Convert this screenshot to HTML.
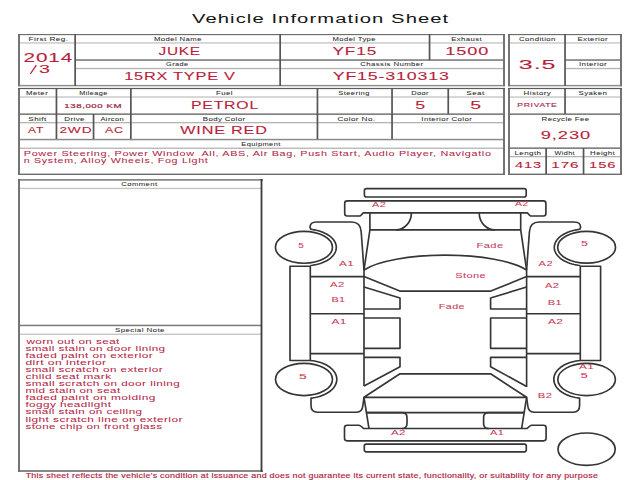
<!DOCTYPE html><html><head><meta charset="utf-8"><style>html,body{margin:0;padding:0;background:#fff;width:640px;height:480px;overflow:hidden}svg{display:block}text{font-family:"Liberation Sans",sans-serif}</style></head><body>
<svg width="640" height="480" viewBox="0 0 640 480">
<rect width="640" height="480" fill="#fff"/>
<rect x="20.00" y="42.30" width="483.00" height="1.30" fill="#c2c2c2"/>
<rect x="510.00" y="42.30" width="110.00" height="1.30" fill="#c2c2c2"/>
<rect x="20.00" y="96.40" width="483.00" height="1.30" fill="#c2c2c2"/>
<rect x="510.00" y="96.40" width="110.00" height="1.30" fill="#c2c2c2"/>
<rect x="20.00" y="187.80" width="241.00" height="1.30" fill="#c2c2c2"/>
<rect x="20.00" y="333.60" width="241.00" height="1.30" fill="#c2c2c2"/>
<rect x="76.00" y="67.90" width="427.00" height="1.30" fill="#b4b4b4"/>
<rect x="566.00" y="67.90" width="54.00" height="1.30" fill="#b4b4b4"/>
<rect x="20.00" y="122.00" width="483.00" height="1.30" fill="#b4b4b4"/>
<rect x="20.00" y="147.60" width="483.00" height="1.30" fill="#b4b4b4"/>
<rect x="510.00" y="156.00" width="110.00" height="1.30" fill="#b4b4b4"/>
<rect x="18.00" y="84.90" width="487.00" height="1.40" fill="#8a8a8a"/>
<rect x="508.00" y="84.90" width="114.00" height="1.40" fill="#8a8a8a"/>
<rect x="18.00" y="138.80" width="487.00" height="1.50" fill="#8a8a8a"/>
<rect x="20.00" y="324.70" width="241.00" height="1.50" fill="#7a7a7a"/>
<rect x="18.00" y="34.00" width="2.00" height="52.30" fill="#747474"/>
<rect x="503.00" y="34.00" width="2.00" height="52.30" fill="#747474"/>
<rect x="508.00" y="34.00" width="2.00" height="52.30" fill="#747474"/>
<rect x="620.00" y="34.00" width="2.00" height="52.30" fill="#747474"/>
<rect x="18.00" y="88.00" width="2.00" height="87.00" fill="#747474"/>
<rect x="503.00" y="88.00" width="2.00" height="87.00" fill="#747474"/>
<rect x="508.00" y="88.00" width="2.00" height="87.00" fill="#747474"/>
<rect x="620.00" y="88.00" width="2.00" height="87.00" fill="#747474"/>
<rect x="18.00" y="179.00" width="2.00" height="292.80" fill="#747474"/>
<rect x="75.00" y="59.30" width="430.00" height="1.50" fill="#737373"/>
<rect x="565.00" y="59.30" width="57.00" height="1.50" fill="#737373"/>
<rect x="18.00" y="113.40" width="487.00" height="1.50" fill="#737373"/>
<rect x="508.00" y="113.40" width="114.00" height="1.50" fill="#737373"/>
<rect x="508.00" y="147.40" width="114.00" height="1.50" fill="#737373"/>
<rect x="18.00" y="34.00" width="487.00" height="1.15" fill="#6c6c6c"/>
<rect x="508.00" y="34.00" width="114.00" height="1.15" fill="#6c6c6c"/>
<rect x="18.00" y="173.60" width="487.00" height="1.40" fill="#6c6c6c"/>
<rect x="508.00" y="173.60" width="114.00" height="1.40" fill="#6c6c6c"/>
<rect x="18.00" y="179.20" width="245.00" height="1.40" fill="#6c6c6c"/>
<rect x="18.00" y="470.20" width="245.00" height="1.60" fill="#6c6c6c"/>
<rect x="18.00" y="87.90" width="487.00" height="1.20" fill="#5c5c5c"/>
<rect x="508.00" y="87.90" width="114.00" height="1.20" fill="#5c5c5c"/>
<rect x="74.30" y="34.00" width="1.70" height="52.00" fill="#555555"/>
<rect x="279.30" y="34.00" width="1.70" height="52.00" fill="#555555"/>
<rect x="428.70" y="34.00" width="1.70" height="26.00" fill="#555555"/>
<rect x="564.20" y="34.00" width="1.70" height="52.00" fill="#555555"/>
<rect x="55.60" y="88.00" width="1.70" height="51.00" fill="#555555"/>
<rect x="130.00" y="88.00" width="1.70" height="51.00" fill="#555555"/>
<rect x="316.60" y="88.00" width="1.70" height="51.00" fill="#555555"/>
<rect x="391.20" y="88.00" width="1.70" height="51.00" fill="#555555"/>
<rect x="447.40" y="88.00" width="1.70" height="26.00" fill="#555555"/>
<rect x="92.70" y="114.00" width="1.70" height="25.00" fill="#555555"/>
<rect x="564.20" y="88.00" width="1.70" height="26.00" fill="#555555"/>
<rect x="545.30" y="148.00" width="1.70" height="26.00" fill="#555555"/>
<rect x="582.70" y="148.00" width="1.70" height="26.00" fill="#555555"/>
<rect x="260.60" y="179.00" width="1.80" height="292.80" fill="#3a3a3a"/>
<g fill="none" stroke="#353535" stroke-width="1.65" stroke-linejoin="round"><path d="M 366.4,188.6 H 524.2 Q 526.2,188.6 526.2,190.6 V 195 Q 526.2,197 524.2,197 H 366.4 Q 364.4,197 364.4,195 V 190.6 Q 364.4,188.6 366.4,188.6 Z"/><path d="M 347.4,200.9 H 543.5 Q 545.9,200.9 545.9,203.4 V 213.6 Q 545.9,216 543.5,216 H 531.2 Q 530,216 527.5,212.9 H 363.1 Q 360.6,216 359.4,216 H 347.1 Q 344.7,216 344.7,213.6 V 203.4 Q 344.7,200.9 347.1,200.9 Z"/><path d="M 369.9,212.9 V 229.8 L 364,270"/><path d="M 520.7,212.9 V 229.8 L 526.6,270"/><path d="M 369.9,229.8 H 520.7"/><path d="M 411.4,212.9 A 15.5,17 0 0 1 395.9,229.8"/><path d="M 479.2,212.9 A 15.5,17 0 0 0 494.7,229.8"/><path d="M 361.2,232 C 360.8,225 358,222 351.5,222 H 316.5 Q 310,222 310,227.3 Q 310.2,229.3 312.20,229.53 L 312.20,229.53 L 314.26,229.84 L 316.28,230.24 L 318.24,230.72 L 320.15,231.29 L 321.99,231.93 L 323.75,232.64 L 325.42,233.42 L 326.99,234.27 L 328.46,235.19 L 329.83,236.16 L 331.08,237.19 L 332.20,238.26 L 333.20,239.38 L 334.06,240.54 L 334.79,241.73 L 335.38,242.95 L 335.82,244.19 L 336.12,245.44 L 336.28,246.71 L 336.28,247.98 L 336.14,249.24 L 335.86,250.50 L 335.42,251.74 L 334.85,252.96 L 334.13,254.15 L 333.28,255.31 L 332.30,256.44 L 331.18,257.52 L 329.95,258.55 L 328.59,259.53 L 327.13,260.45 L 325.56,261.30 L 323.90,262.09 L 322.15,262.81 L 320.32,263.46 L 318.42,264.03 L 316.46,264.52 L 314.45,264.92 L 312.39,265.25 L 310.30,265.48"/><path d="M 529.4,232 C 529.8,225 532.6,222 539.1,222 H 574.1 Q 580.6,222 580.6,227.3 Q 580.4,229.3 578.40,229.53 L 576.34,229.84 L 574.32,230.24 L 572.36,230.72 L 570.45,231.29 L 568.61,231.93 L 566.85,232.64 L 565.18,233.42 L 563.61,234.27 L 562.14,235.19 L 560.77,236.16 L 559.52,237.19 L 558.40,238.26 L 557.40,239.38 L 556.54,240.54 L 555.81,241.73 L 555.22,242.95 L 554.78,244.19 L 554.48,245.44 L 554.32,246.71 L 554.32,247.98 L 554.46,249.24 L 554.74,250.50 L 555.18,251.74 L 555.75,252.96 L 556.47,254.15 L 557.32,255.31 L 558.30,256.44 L 559.42,257.52 L 560.65,258.55 L 562.01,259.53 L 563.47,260.45 L 565.04,261.30 L 566.70,262.09 L 568.45,262.81 L 570.28,263.46 L 572.18,264.03 L 574.14,264.52 L 576.15,264.92 L 578.21,265.25 L 580.30,265.48"/><path d="M 361.2,232 L 364,270"/><path d="M 529.4,232 L 526.6,270"/><path d="M 290,266.2 H 310.3 V 360.5 H 290 Z"/><path d="M 600.6,266.2 H 580.3 V 360.5 H 600.6 Z"/><path d="M 364,270 V 386"/><path d="M 526.6,270 V 387"/><path d="M 310.3,276.6 H 364"/><path d="M 526.6,276.6 H 580.3"/><path d="M 310.3,313.7 H 364"/><path d="M 526.6,313.7 H 580.3"/><path d="M 310.3,353.6 H 364"/><path d="M 526.6,353.6 H 580.3"/><path d="M 364,270 A 88,24 0 0 1 526.6,270"/><path d="M 364,276.6 L 399.8,291.1 H 490.8 L 526.6,276.6"/><path d="M 364,287 L 400,298 V 309 H 364"/><path d="M 526.6,287 L 490.6,298 V 309 H 526.6"/><path d="M 364,318 H 400 V 348.3 H 364"/><path d="M 526.6,318 H 490.6 V 348.3 H 526.6"/><path d="M 364,357.3 H 400 V 366.7 L 364,386"/><path d="M 526.6,357.3 H 490.6 V 366.7 L 526.6,386.5"/><path d="M 364,397.3 L 400,373.8 H 490.6 L 526.6,397.3 Z"/><path d="M 364,397.3 L 369,428.6"/><path d="M 526.6,397.3 L 521.6,428.6"/><path d="M 310.30,360.47 L 312.45,360.70 L 314.56,361.02 L 316.64,361.44 L 318.66,361.95 L 320.62,362.54 L 322.50,363.22 L 324.30,363.98 L 326.01,364.82 L 327.62,365.73 L 329.12,366.71 L 330.51,367.76 L 331.77,368.86 L 332.90,370.02 L 333.90,371.22 L 334.75,372.47 L 335.46,373.75 L 336.03,375.06 L 336.44,376.38 L 336.70,377.73 L 336.80,379.08 L 336.75,380.43 L 336.54,381.78 L 336.18,383.12 L 335.66,384.43 L 335.00,385.72 L 334.19,386.98 L 333.24,388.19 L 332.15,389.37 L 330.93,390.49 L 329.59,391.55 L 328.12,392.56 L 326.55,393.49 L 324.87,394.35 L 323.10,395.14 L 321.24,395.85 L 319.30,396.47 L 317.30,397.01 L 315.24,397.45 L 313.14,397.81 L 311.00,398.06 L 311,405.5 Q 311,412.2 317.5,412.2 H 356.5 Q 362.3,412.2 362.8,406 L 364,397.3"/><path d="M 580.30,360.47 L 578.15,360.70 L 576.04,361.02 L 573.96,361.44 L 571.94,361.95 L 569.98,362.54 L 568.10,363.22 L 566.30,363.98 L 564.59,364.82 L 562.98,365.73 L 561.48,366.71 L 560.09,367.76 L 558.83,368.86 L 557.70,370.02 L 556.70,371.22 L 555.85,372.47 L 555.14,373.75 L 554.57,375.06 L 554.16,376.38 L 553.90,377.73 L 553.80,379.08 L 553.85,380.43 L 554.06,381.78 L 554.42,383.12 L 554.94,384.43 L 555.60,385.72 L 556.41,386.98 L 557.36,388.19 L 558.45,389.37 L 559.67,390.49 L 561.01,391.55 L 562.48,392.56 L 564.05,393.49 L 565.73,394.35 L 567.50,395.14 L 569.36,395.85 L 571.30,396.47 L 573.30,397.01 L 575.36,397.45 L 577.46,397.81 L 579.60,398.06 L 579.6,405.5 Q 579.6,412.2 573.1,412.2 H 534.1 Q 528.3,412.2 527.8,406 L 526.6,397.3"/><path d="M 367,412.6 H 523.6"/><path d="M 366,412.6 H 402 Q 407,412.6 407,417.6 V 423.6 Q 407,428.6 402,428.6"/><path d="M 524.6,412.6 H 488.6 Q 483.6,412.6 483.6,417.6 V 423.6 Q 483.6,428.6 488.6,428.6"/><path d="M 347,425.2 H 358.8 Q 360.5,425.2 363.5,428.5 H 527.1 Q 530.1,425.2 531.8,425.2 H 543.6 Q 546.1,425.2 546.1,427.7 V 438.3 Q 546.1,440.8 543.6,440.8 H 347 Q 344.5,440.8 344.5,438.3 V 427.7 Q 344.5,425.2 347,425.2 Z"/><path d="M 366.3,444.1 H 524.3 Q 526.3,444.1 526.3,446.1 V 449.8 Q 526.3,451.8 524.3,451.8 H 366.3 Q 364.3,451.8 364.3,449.8 V 446.1 Q 364.3,444.1 366.3,444.1 Z"/><ellipse cx="303.95" cy="247.3" rx="28.5" ry="15.9"/><ellipse cx="586.6" cy="247.2" rx="28.9" ry="15.9"/><ellipse cx="304" cy="379.45" rx="28.5" ry="16.1"/><ellipse cx="586.6" cy="379.5" rx="28.8" ry="16.1"/><ellipse cx="586.6" cy="449.2" rx="28.6" ry="16.2"/></g>
<path d="M 30.3,74 L 36.3,65.2" stroke="#b81e3c" stroke-width="1.25" fill="none"/>
<text x="192.00" y="22.80" font-size="13.23" fill="#151515" stroke="#151515" stroke-width="0.02" letter-spacing="0.70" textLength="257.30" lengthAdjust="spacingAndGlyphs">Vehicle Information Sheet</text>
<text x="28.60" y="40.80" font-size="5.52" fill="#2a2a2a" stroke="#2a2a2a" stroke-width="0.05" letter-spacing="0.30" textLength="39.80" lengthAdjust="spacingAndGlyphs">First Reg.</text>
<text x="153.90" y="40.90" font-size="5.67" fill="#2a2a2a" stroke="#2a2a2a" stroke-width="0.05" letter-spacing="0.30" textLength="48.00" lengthAdjust="spacingAndGlyphs">Model Name</text>
<text x="332.60" y="40.90" font-size="5.67" fill="#2a2a2a" stroke="#2a2a2a" stroke-width="0.05" letter-spacing="0.30" textLength="43.30" lengthAdjust="spacingAndGlyphs">Model Type</text>
<text x="451.20" y="40.90" font-size="5.67" fill="#2a2a2a" stroke="#2a2a2a" stroke-width="0.05" letter-spacing="0.30" textLength="31.00" lengthAdjust="spacingAndGlyphs">Exhaust</text>
<text x="519.00" y="40.90" font-size="5.67" fill="#2a2a2a" stroke="#2a2a2a" stroke-width="0.05" letter-spacing="0.30" textLength="36.90" lengthAdjust="spacingAndGlyphs">Condition</text>
<text x="577.40" y="40.90" font-size="5.67" fill="#2a2a2a" stroke="#2a2a2a" stroke-width="0.05" letter-spacing="0.30" textLength="30.70" lengthAdjust="spacingAndGlyphs">Exterior</text>
<text x="166.00" y="66.30" font-size="5.52" fill="#2a2a2a" stroke="#2a2a2a" stroke-width="0.05" letter-spacing="0.30" textLength="22.50" lengthAdjust="spacingAndGlyphs">Grade</text>
<text x="360.30" y="66.30" font-size="5.52" fill="#2a2a2a" stroke="#2a2a2a" stroke-width="0.05" letter-spacing="0.30" textLength="63.30" lengthAdjust="spacingAndGlyphs">Chassis Number</text>
<text x="578.90" y="66.30" font-size="5.52" fill="#2a2a2a" stroke="#2a2a2a" stroke-width="0.05" letter-spacing="0.30" textLength="28.20" lengthAdjust="spacingAndGlyphs">Interior</text>
<text x="26.00" y="95.00" font-size="5.38" fill="#2a2a2a" stroke="#2a2a2a" stroke-width="0.05" letter-spacing="0.30" textLength="22.20" lengthAdjust="spacingAndGlyphs">Meter</text>
<text x="79.30" y="95.00" font-size="5.38" fill="#2a2a2a" stroke="#2a2a2a" stroke-width="0.05" letter-spacing="0.30" textLength="28.40" lengthAdjust="spacingAndGlyphs">Mileage</text>
<text x="216.00" y="95.00" font-size="5.38" fill="#2a2a2a" stroke="#2a2a2a" stroke-width="0.05" letter-spacing="0.30" textLength="17.00" lengthAdjust="spacingAndGlyphs">Fuel</text>
<text x="338.25" y="95.00" font-size="5.38" fill="#2a2a2a" stroke="#2a2a2a" stroke-width="0.05" letter-spacing="0.30" textLength="31.55" lengthAdjust="spacingAndGlyphs">Steering</text>
<text x="411.20" y="95.00" font-size="5.38" fill="#2a2a2a" stroke="#2a2a2a" stroke-width="0.05" letter-spacing="0.30" textLength="17.80" lengthAdjust="spacingAndGlyphs">Door</text>
<text x="466.30" y="95.00" font-size="5.38" fill="#2a2a2a" stroke="#2a2a2a" stroke-width="0.05" letter-spacing="0.30" textLength="18.50" lengthAdjust="spacingAndGlyphs">Seat</text>
<text x="523.60" y="95.20" font-size="5.67" fill="#2a2a2a" stroke="#2a2a2a" stroke-width="0.05" letter-spacing="0.30" textLength="27.60" lengthAdjust="spacingAndGlyphs">History</text>
<text x="578.60" y="95.20" font-size="5.67" fill="#2a2a2a" stroke="#2a2a2a" stroke-width="0.05" letter-spacing="0.30" textLength="28.60" lengthAdjust="spacingAndGlyphs">Syaken</text>
<text x="28.30" y="120.70" font-size="5.96" fill="#2a2a2a" stroke="#2a2a2a" stroke-width="0.05" letter-spacing="0.30" textLength="18.40" lengthAdjust="spacingAndGlyphs">Shift</text>
<text x="64.30" y="120.70" font-size="5.96" fill="#2a2a2a" stroke="#2a2a2a" stroke-width="0.05" letter-spacing="0.30" textLength="20.70" lengthAdjust="spacingAndGlyphs">Drive</text>
<text x="100.40" y="120.70" font-size="5.96" fill="#2a2a2a" stroke="#2a2a2a" stroke-width="0.05" letter-spacing="0.30" textLength="23.80" lengthAdjust="spacingAndGlyphs">Aircon</text>
<text x="202.75" y="120.70" font-size="5.96" fill="#2a2a2a" stroke="#2a2a2a" stroke-width="0.05" letter-spacing="0.30" textLength="42.75" lengthAdjust="spacingAndGlyphs">Body Color</text>
<text x="337.50" y="120.70" font-size="5.96" fill="#2a2a2a" stroke="#2a2a2a" stroke-width="0.05" letter-spacing="0.30" textLength="38.00" lengthAdjust="spacingAndGlyphs">Color No.</text>
<text x="421.30" y="120.70" font-size="5.96" fill="#2a2a2a" stroke="#2a2a2a" stroke-width="0.05" letter-spacing="0.30" textLength="51.00" lengthAdjust="spacingAndGlyphs">Interior Color</text>
<text x="541.60" y="120.90" font-size="6.25" fill="#2a2a2a" stroke="#2a2a2a" stroke-width="0.05" letter-spacing="0.30" textLength="48.00" lengthAdjust="spacingAndGlyphs">Recycle Fee</text>
<text x="241.30" y="146.10" font-size="5.38" fill="#2a2a2a" stroke="#2a2a2a" stroke-width="0.05" letter-spacing="0.30" textLength="39.45" lengthAdjust="spacingAndGlyphs">Equipment</text>
<text x="514.50" y="155.40" font-size="6.10" fill="#2a2a2a" stroke="#2a2a2a" stroke-width="0.05" letter-spacing="0.30" textLength="27.00" lengthAdjust="spacingAndGlyphs">Length</text>
<text x="554.60" y="155.40" font-size="6.10" fill="#2a2a2a" stroke="#2a2a2a" stroke-width="0.05" letter-spacing="0.30" textLength="20.40" lengthAdjust="spacingAndGlyphs">Widht</text>
<text x="590.10" y="155.40" font-size="6.10" fill="#2a2a2a" stroke="#2a2a2a" stroke-width="0.05" letter-spacing="0.30" textLength="25.00" lengthAdjust="spacingAndGlyphs">Height</text>
<text x="121.30" y="186.00" font-size="5.45" fill="#2a2a2a" stroke="#2a2a2a" stroke-width="0.05" letter-spacing="0.30" textLength="36.20" lengthAdjust="spacingAndGlyphs">Comment</text>
<text x="115.00" y="331.60" font-size="5.81" fill="#2a2a2a" stroke="#2a2a2a" stroke-width="0.05" letter-spacing="0.30" textLength="49.80" lengthAdjust="spacingAndGlyphs">Special Note</text>
<text x="23.50" y="61.60" font-size="12.06" fill="#b81e3c" stroke="#b81e3c" stroke-width="0.10" letter-spacing="0.55" textLength="49.70" lengthAdjust="spacingAndGlyphs">2014</text>
<text x="38.90" y="72.80" font-size="11.48" fill="#b81e3c" stroke="#b81e3c" stroke-width="0.10" letter-spacing="0.55" textLength="11.90" lengthAdjust="spacingAndGlyphs">3</text>
<text x="158.50" y="55.00" font-size="10.90" fill="#b81e3c" stroke="#b81e3c" stroke-width="0.10" letter-spacing="0.55" textLength="42.40" lengthAdjust="spacingAndGlyphs">JUKE</text>
<text x="124.20" y="80.30" font-size="11.34" fill="#b81e3c" stroke="#b81e3c" stroke-width="0.10" letter-spacing="0.55" textLength="111.60" lengthAdjust="spacingAndGlyphs">15RX TYPE V</text>
<text x="332.50" y="54.80" font-size="10.61" fill="#b81e3c" stroke="#b81e3c" stroke-width="0.10" letter-spacing="0.55" textLength="44.60" lengthAdjust="spacingAndGlyphs">YF15</text>
<text x="445.30" y="54.80" font-size="10.61" fill="#b81e3c" stroke="#b81e3c" stroke-width="0.10" letter-spacing="0.55" textLength="44.10" lengthAdjust="spacingAndGlyphs">1500</text>
<text x="332.70" y="80.30" font-size="11.34" fill="#b81e3c" stroke="#b81e3c" stroke-width="0.10" letter-spacing="0.55" textLength="117.10" lengthAdjust="spacingAndGlyphs">YF15-310313</text>
<text x="518.80" y="68.70" font-size="13.66" fill="#b81e3c" stroke="#b81e3c" stroke-width="0.10" letter-spacing="0.55" textLength="37.60" lengthAdjust="spacingAndGlyphs">3.5</text>
<text x="64.30" y="107.80" font-size="6.25" fill="#9a2040" stroke="#9a2040" stroke-width="0.20" letter-spacing="0.40" textLength="57.90" lengthAdjust="spacingAndGlyphs">138,000 KM</text>
<text x="191.00" y="108.50" font-size="10.90" fill="#b81e3c" stroke="#b81e3c" stroke-width="0.10" letter-spacing="0.55" textLength="68.00" lengthAdjust="spacingAndGlyphs">PETROL</text>
<text x="415.20" y="108.50" font-size="10.90" fill="#b81e3c" stroke="#b81e3c" stroke-width="0.10" letter-spacing="0.55" textLength="10.80" lengthAdjust="spacingAndGlyphs">5</text>
<text x="470.30" y="108.50" font-size="10.90" fill="#b81e3c" stroke="#b81e3c" stroke-width="0.10" letter-spacing="0.55" textLength="11.80" lengthAdjust="spacingAndGlyphs">5</text>
<text x="517.30" y="106.60" font-size="6.10" fill="#a83050" stroke="#a83050" stroke-width="0.15" letter-spacing="0.50" textLength="40.20" lengthAdjust="spacingAndGlyphs">PRIVATE</text>
<text x="28.10" y="133.30" font-size="8.72" fill="#b81e3c" stroke="#b81e3c" stroke-width="0.10" letter-spacing="0.55" textLength="16.00" lengthAdjust="spacingAndGlyphs">AT</text>
<text x="59.40" y="133.30" font-size="8.72" fill="#b81e3c" stroke="#b81e3c" stroke-width="0.10" letter-spacing="0.55" textLength="33.00" lengthAdjust="spacingAndGlyphs">2WD</text>
<text x="104.90" y="133.30" font-size="8.72" fill="#b81e3c" stroke="#b81e3c" stroke-width="0.10" letter-spacing="0.55" textLength="18.80" lengthAdjust="spacingAndGlyphs">AC</text>
<text x="180.25" y="134.00" font-size="10.90" fill="#b81e3c" stroke="#b81e3c" stroke-width="0.10" letter-spacing="0.55" textLength="87.50" lengthAdjust="spacingAndGlyphs">WINE RED</text>
<text x="540.80" y="138.50" font-size="10.90" fill="#b81e3c" stroke="#b81e3c" stroke-width="0.10" letter-spacing="0.55" textLength="50.30" lengthAdjust="spacingAndGlyphs">9,230</text>
<text x="515.00" y="167.50" font-size="9.01" fill="#b81e3c" stroke="#b81e3c" stroke-width="0.10" letter-spacing="0.55" textLength="27.00" lengthAdjust="spacingAndGlyphs">413</text>
<text x="551.30" y="167.50" font-size="9.01" fill="#b81e3c" stroke="#b81e3c" stroke-width="0.10" letter-spacing="0.55" textLength="28.20" lengthAdjust="spacingAndGlyphs">176</text>
<text x="589.10" y="167.50" font-size="9.01" fill="#b81e3c" stroke="#b81e3c" stroke-width="0.10" letter-spacing="0.55" textLength="27.30" lengthAdjust="spacingAndGlyphs">156</text>
<text style="white-space:pre" x="23.75" y="156.00" font-size="7.99" fill="#b0284a" stroke="#b0284a" stroke-width="0.05" letter-spacing="0.50" textLength="467.85" lengthAdjust="spacingAndGlyphs">Power Steering, Power Window  All, ABS, Air Bag, Push Start, Audio Player, Navigatio</text>
<text x="23.75" y="162.80" font-size="7.56" fill="#b0284a" stroke="#b0284a" stroke-width="0.05" letter-spacing="0.50" textLength="184.75" lengthAdjust="spacingAndGlyphs">n System, Alloy Wheels, Fog Light</text>
<text x="26.40" y="343.75" font-size="7.92" fill="#b42646" stroke="#b42646" stroke-width="0.04" letter-spacing="0.30" textLength="93.40" lengthAdjust="spacingAndGlyphs">worn out on seat</text>
<text x="25.40" y="350.82" font-size="7.92" fill="#b42646" stroke="#b42646" stroke-width="0.04" letter-spacing="0.30" textLength="140.20" lengthAdjust="spacingAndGlyphs">small stain on door lining</text>
<text x="25.40" y="357.89" font-size="7.92" fill="#b42646" stroke="#b42646" stroke-width="0.04" letter-spacing="0.30" textLength="127.80" lengthAdjust="spacingAndGlyphs">faded paint on exterior</text>
<text x="25.40" y="364.96" font-size="7.92" fill="#b42646" stroke="#b42646" stroke-width="0.04" letter-spacing="0.30" textLength="81.20" lengthAdjust="spacingAndGlyphs">dirt on interior</text>
<text x="25.40" y="372.03" font-size="7.92" fill="#b42646" stroke="#b42646" stroke-width="0.04" letter-spacing="0.30" textLength="137.60" lengthAdjust="spacingAndGlyphs">small scratch on exterior</text>
<text x="25.40" y="379.10" font-size="7.92" fill="#b42646" stroke="#b42646" stroke-width="0.04" letter-spacing="0.30" textLength="86.10" lengthAdjust="spacingAndGlyphs">child seat mark</text>
<text x="25.40" y="386.17" font-size="7.92" fill="#b42646" stroke="#b42646" stroke-width="0.04" letter-spacing="0.30" textLength="154.90" lengthAdjust="spacingAndGlyphs">small scratch on door lining</text>
<text x="25.40" y="393.24" font-size="7.92" fill="#b42646" stroke="#b42646" stroke-width="0.04" letter-spacing="0.30" textLength="95.20" lengthAdjust="spacingAndGlyphs">mid stain on seat</text>
<text x="25.40" y="400.31" font-size="7.92" fill="#b42646" stroke="#b42646" stroke-width="0.04" letter-spacing="0.30" textLength="130.40" lengthAdjust="spacingAndGlyphs">faded paint on molding</text>
<text x="25.40" y="407.38" font-size="7.92" fill="#b42646" stroke="#b42646" stroke-width="0.04" letter-spacing="0.30" textLength="86.10" lengthAdjust="spacingAndGlyphs">foggy headlight</text>
<text x="25.40" y="414.45" font-size="7.92" fill="#b42646" stroke="#b42646" stroke-width="0.04" letter-spacing="0.30" textLength="117.10" lengthAdjust="spacingAndGlyphs">small stain on ceiling</text>
<text x="25.40" y="421.52" font-size="7.92" fill="#b42646" stroke="#b42646" stroke-width="0.04" letter-spacing="0.30" textLength="157.50" lengthAdjust="spacingAndGlyphs">light scratch line on exterior</text>
<text x="25.40" y="428.59" font-size="7.92" fill="#b42646" stroke="#b42646" stroke-width="0.04" letter-spacing="0.30" textLength="137.00" lengthAdjust="spacingAndGlyphs">stone chip on front glass</text>
<text x="25.70" y="477.60" font-size="6.83" fill="#b02444" stroke="#b02444" stroke-width="0.15" letter-spacing="0.20" textLength="572.40" lengthAdjust="spacingAndGlyphs">This sheet reflects the vehicle&#39;s condition at issuance and does not guarantee its current state, functionality, or suitability for any purpose</text>
<text x="372.00" y="206.60" font-size="7.56" fill="#c83a5c" stroke="#c83a5c" stroke-width="0.05" letter-spacing="0.30" textLength="14.10" lengthAdjust="spacingAndGlyphs">A2</text>
<text x="515.00" y="205.80" font-size="6.98" fill="#c83a5c" stroke="#c83a5c" stroke-width="0.05" letter-spacing="0.30" textLength="13.60" lengthAdjust="spacingAndGlyphs">A2</text>
<text x="298.30" y="248.10" font-size="7.27" fill="#c83a5c" stroke="#c83a5c" stroke-width="0.05" letter-spacing="0.30" textLength="5.90" lengthAdjust="spacingAndGlyphs">5</text>
<text x="580.90" y="245.80" font-size="6.61" fill="#c83a5c" stroke="#c83a5c" stroke-width="0.05" letter-spacing="0.30" textLength="7.50" lengthAdjust="spacingAndGlyphs">5</text>
<text x="476.50" y="247.50" font-size="7.70" fill="#c83a5c" stroke="#c83a5c" stroke-width="0.05" letter-spacing="0.30" textLength="27.00" lengthAdjust="spacingAndGlyphs">Fade</text>
<text x="338.90" y="266.30" font-size="6.83" fill="#c83a5c" stroke="#c83a5c" stroke-width="0.05" letter-spacing="0.30" textLength="15.40" lengthAdjust="spacingAndGlyphs">A1</text>
<text x="538.60" y="266.00" font-size="7.56" fill="#c83a5c" stroke="#c83a5c" stroke-width="0.05" letter-spacing="0.30" textLength="14.40" lengthAdjust="spacingAndGlyphs">A2</text>
<text x="455.20" y="277.70" font-size="7.56" fill="#c83a5c" stroke="#c83a5c" stroke-width="0.05" letter-spacing="0.30" textLength="30.90" lengthAdjust="spacingAndGlyphs">Stone</text>
<text x="330.10" y="287.30" font-size="7.41" fill="#c83a5c" stroke="#c83a5c" stroke-width="0.05" letter-spacing="0.30" textLength="14.70" lengthAdjust="spacingAndGlyphs">A2</text>
<text x="545.00" y="288.40" font-size="7.70" fill="#c83a5c" stroke="#c83a5c" stroke-width="0.05" letter-spacing="0.30" textLength="14.50" lengthAdjust="spacingAndGlyphs">A2</text>
<text x="331.40" y="302.30" font-size="7.41" fill="#c83a5c" stroke="#c83a5c" stroke-width="0.05" letter-spacing="0.30" textLength="14.20" lengthAdjust="spacingAndGlyphs">B1</text>
<text x="547.70" y="305.30" font-size="7.70" fill="#c83a5c" stroke="#c83a5c" stroke-width="0.05" letter-spacing="0.30" textLength="14.40" lengthAdjust="spacingAndGlyphs">B1</text>
<text x="438.80" y="309.00" font-size="7.63" fill="#c83a5c" stroke="#c83a5c" stroke-width="0.05" letter-spacing="0.30" textLength="26.20" lengthAdjust="spacingAndGlyphs">Fade</text>
<text x="331.40" y="323.50" font-size="7.41" fill="#c83a5c" stroke="#c83a5c" stroke-width="0.05" letter-spacing="0.30" textLength="15.50" lengthAdjust="spacingAndGlyphs">A1</text>
<text x="547.90" y="323.50" font-size="7.41" fill="#c83a5c" stroke="#c83a5c" stroke-width="0.05" letter-spacing="0.30" textLength="15.50" lengthAdjust="spacingAndGlyphs">A2</text>
<text x="299.00" y="379.00" font-size="7.99" fill="#c83a5c" stroke="#c83a5c" stroke-width="0.05" letter-spacing="0.30" textLength="8.20" lengthAdjust="spacingAndGlyphs">5</text>
<text x="578.90" y="369.10" font-size="7.27" fill="#c83a5c" stroke="#c83a5c" stroke-width="0.05" letter-spacing="0.30" textLength="15.40" lengthAdjust="spacingAndGlyphs">A1</text>
<text x="580.50" y="378.00" font-size="6.54" fill="#c83a5c" stroke="#c83a5c" stroke-width="0.05" letter-spacing="0.30" textLength="7.90" lengthAdjust="spacingAndGlyphs">5</text>
<text x="537.80" y="397.50" font-size="6.83" fill="#c83a5c" stroke="#c83a5c" stroke-width="0.05" letter-spacing="0.30" textLength="14.70" lengthAdjust="spacingAndGlyphs">B2</text>
<text x="390.90" y="434.70" font-size="7.27" fill="#c83a5c" stroke="#c83a5c" stroke-width="0.05" letter-spacing="0.30" textLength="15.10" lengthAdjust="spacingAndGlyphs">A2</text>
<text x="490.00" y="434.70" font-size="7.27" fill="#c83a5c" stroke="#c83a5c" stroke-width="0.05" letter-spacing="0.30" textLength="14.40" lengthAdjust="spacingAndGlyphs">A1</text>
</svg></body></html>
